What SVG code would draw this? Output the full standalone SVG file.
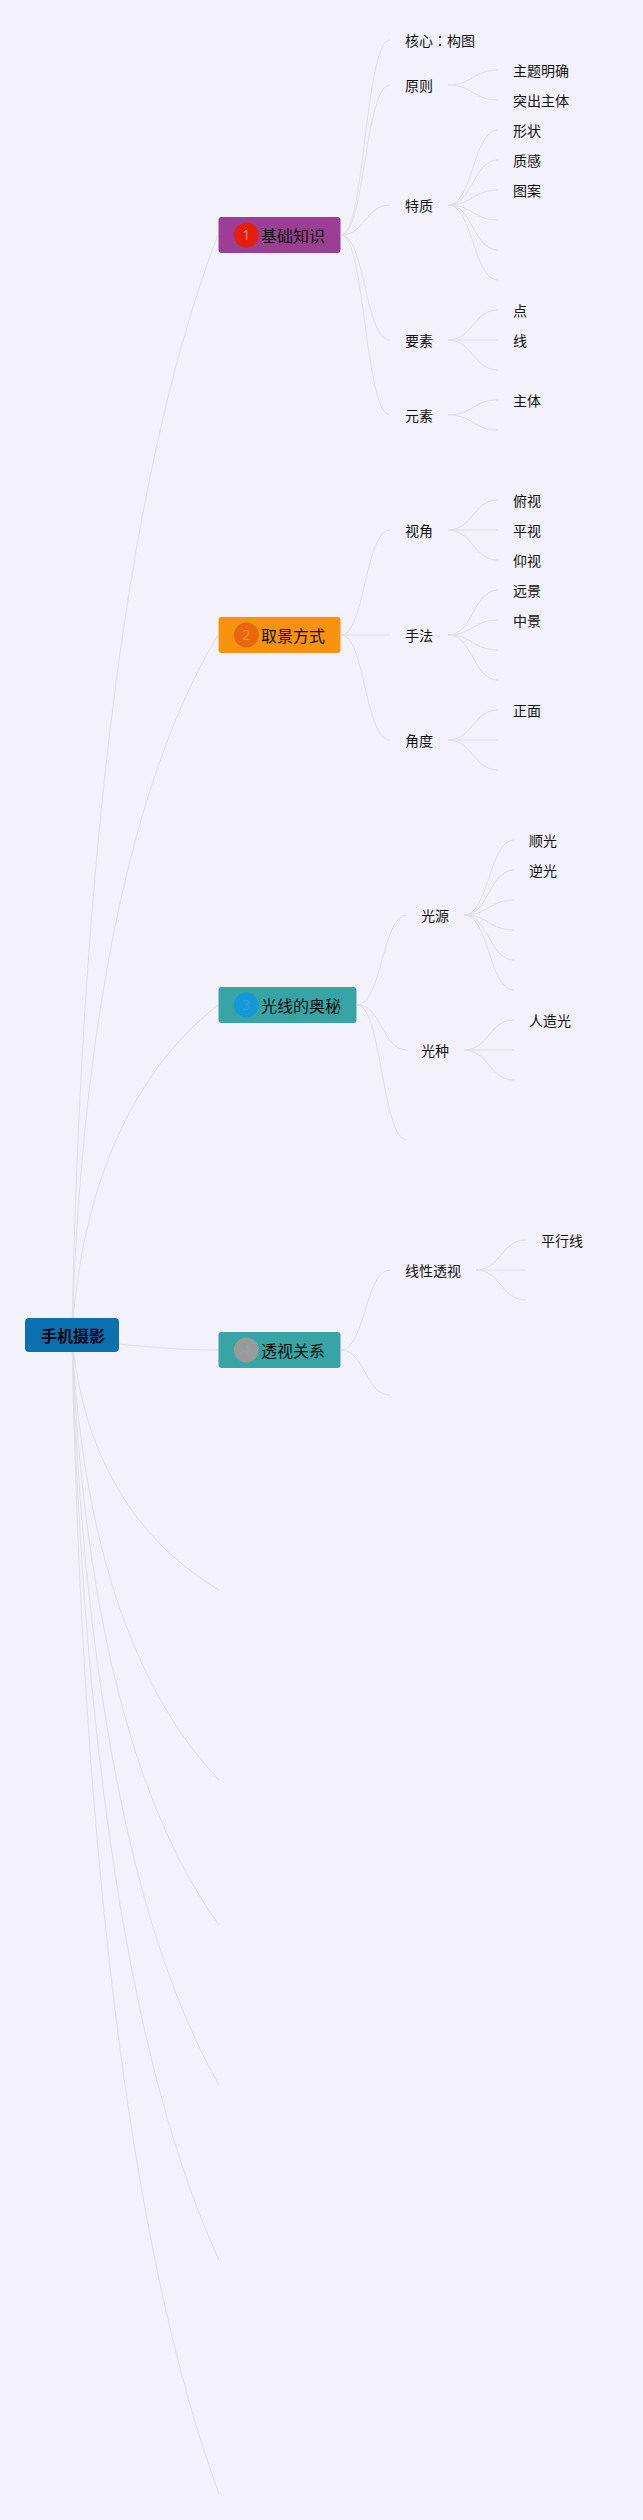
<svg xmlns="http://www.w3.org/2000/svg" width="643" height="2520" viewBox="0 0 643 2520">
<style>
text{font-family:"Noto Sans CJK SC","Noto Sans",sans-serif;fill:#111}
.l1{font-size:16px;fill:#0c0c0c}
.l2{font-size:14px}
.root{font-size:16px;font-weight:700;fill:#060612}
.num{font-size:14px;text-anchor:middle;font-family:"Noto Sans",sans-serif}
.box{stroke:none}
.tc{font-family:"Noto Sans CJK TC",sans-serif}
#connectors path{fill:none;stroke:#dfdfe4;stroke-width:1}
</style>
<rect width="643" height="2520" fill="#f3f2fa"/>
<g id="connectors">
<path d="M72 1335C78 1005 107 521 218 235"/>
<path d="M72 1335C78 1125 108 817 218 635"/>
<path d="M72 1335C78 1236 108 1091 218 1005"/>
<path d="M118 1344C150 1347 180 1350 218 1350"/>
<path d="M72 1335C78 1412 108 1524 219 1590"/>
<path d="M72 1335C78 1469 108 1664 219 1780"/>
<path d="M72 1335C78 1512 108 1772 219 1925"/>
<path d="M72 1335C78 1560 108 1890 219 2085"/>
<path d="M72 1335C78 1612 108 2020 219 2260"/>
<path d="M72 1335C78 1683 108 2193 219 2494"/>
<path d="M341 235C365 235 365 40 390 40"/>
<path d="M341 235C365 235 365 85 390 85"/>
<path d="M341 235C365 235 365 205 390 205"/>
<path d="M341 235C365 235 365 340 390 340"/>
<path d="M341 235C365 235 365 415 390 415"/>
<path d="M448 85C473 85 473 70 498 70"/>
<path d="M448 85C473 85 473 100 498 100"/>
<path d="M448 205C473 205 473 130 498 130"/>
<path d="M448 205C473 205 473 160 498 160"/>
<path d="M448 205C473 205 473 190 498 190"/>
<path d="M448 205C473 205 473 220 498 220"/>
<path d="M448 205C473 205 473 250 498 250"/>
<path d="M448 205C473 205 473 280 498 280"/>
<path d="M448 340C473 340 473 310 498 310"/>
<path d="M448 340H498"/>
<path d="M448 340C473 340 473 370 498 370"/>
<path d="M448 415C473 415 473 400 498 400"/>
<path d="M448 415C473 415 473 430 498 430"/>
<path d="M341 635C365 635 365 530 390 530"/>
<path d="M341 635H390"/>
<path d="M341 635C365 635 365 740 390 740"/>
<path d="M448 530C473 530 473 500 498 500"/>
<path d="M448 530H498"/>
<path d="M448 530C473 530 473 560 498 560"/>
<path d="M448 635C473 635 473 590 498 590"/>
<path d="M448 635C473 635 473 620 498 620"/>
<path d="M448 635C473 635 473 650 498 650"/>
<path d="M448 635C473 635 473 680 498 680"/>
<path d="M448 740C473 740 473 710 498 710"/>
<path d="M448 740H498"/>
<path d="M448 740C473 740 473 770 498 770"/>
<path d="M357 1005C382 1005 382 915 407 915"/>
<path d="M357 1005C382 1005 382 1050 407 1050"/>
<path d="M357 1005C382 1005 382 1140 407 1140"/>
<path d="M464 915C489 915 489 840 514 840"/>
<path d="M464 915C489 915 489 870 514 870"/>
<path d="M464 915C489 915 489 900 514 900"/>
<path d="M464 915C489 915 489 930 514 930"/>
<path d="M464 915C489 915 489 960 514 960"/>
<path d="M464 915C489 915 489 990 514 990"/>
<path d="M464 1050C489 1050 489 1020 514 1020"/>
<path d="M464 1050H514"/>
<path d="M464 1050C489 1050 489 1080 514 1080"/>
<path d="M341 1350C365 1350 365 1270 390 1270"/>
<path d="M341 1350C365 1350 365 1395 390 1395"/>
<path d="M476 1270C501 1270 501 1240 526 1240"/>
<path d="M476 1270H526"/>
<path d="M476 1270C501 1270 501 1300 526 1300"/>
</g>
<g id="root"><rect class="box" x="25" y="1318" width="94" height="34" rx="4" fill="#0b70b0"/><text class="root" x="41" y="1342">手机摄影</text></g>
<g id="n1"><rect class="box" x="218.500" y="217" width="122" height="36" rx="3" fill="#9c3f94"/><circle cx="246.300" cy="235" r="12.500" fill="#e3200f"/><text class="num" x="246.300" y="240" style="fill:#ea8a80">1</text><text class="l1" x="261" y="242">基础知识</text></g>
<g id="n2"><rect class="box" x="218.500" y="617" width="122" height="36" rx="3" fill="#f9930f"/><circle cx="246.300" cy="635" r="12.500" fill="#e8670f"/><text class="num" x="246.300" y="640" style="fill:#f9932a">2</text><text class="l1" x="261" y="642">取景方式</text></g>
<g id="n3"><rect class="box" x="218.500" y="987" width="138" height="36" rx="3" fill="#37a5a5"/><circle cx="246.300" cy="1005" r="12.500" fill="#1698d8"/><text class="num" x="246.300" y="1010" style="fill:#2ba5cc">3</text><text class="l1" x="261" y="1012">光线的奥秘</text></g>
<g id="n4"><rect class="box" x="218.500" y="1332" width="122" height="36" rx="3" fill="#37a5a5"/><circle cx="246.300" cy="1350" r="12.500" fill="#9a9a9a"/><text class="num" x="246.300" y="1355" style="fill:#8fa5a5">4</text><text class="l1" x="261" y="1357">透视关系</text></g>
<g id="n1-children">
<text class="l2" x="405" y="46">核心<tspan class="tc">：</tspan>构图</text>
<text class="l2" x="405" y="91">原则</text>
<text class="l2" x="513" y="76">主题明确</text>
<text class="l2" x="513" y="106">突出主体</text>
<text class="l2" x="405" y="211">特质</text>
<text class="l2" x="513" y="136">形状</text>
<text class="l2" x="513" y="166">质感</text>
<text class="l2" x="513" y="196">图案</text>
<text class="l2" x="405" y="346">要素</text>
<text class="l2" x="513" y="316">点</text>
<text class="l2" x="513" y="346">线</text>
<text class="l2" x="405" y="421">元素</text>
<text class="l2" x="513" y="406">主体</text>
</g>
<g id="n2-children">
<text class="l2" x="405" y="536">视角</text>
<text class="l2" x="513" y="506">俯视</text>
<text class="l2" x="513" y="536">平视</text>
<text class="l2" x="513" y="566">仰视</text>
<text class="l2" x="405" y="641">手法</text>
<text class="l2" x="513" y="596">远景</text>
<text class="l2" x="513" y="626">中景</text>
<text class="l2" x="405" y="746">角度</text>
<text class="l2" x="513" y="716">正面</text>
</g>
<g id="n3-children">
<text class="l2" x="421" y="921">光源</text>
<text class="l2" x="529" y="846">顺光</text>
<text class="l2" x="529" y="876">逆光</text>
<text class="l2" x="421" y="1056">光种</text>
<text class="l2" x="529" y="1026">人造光</text>
</g>
<g id="n4-children">
<text class="l2" x="405" y="1276">线性透视</text>
<text class="l2" x="541" y="1246">平行线</text>
</g>
</svg>
